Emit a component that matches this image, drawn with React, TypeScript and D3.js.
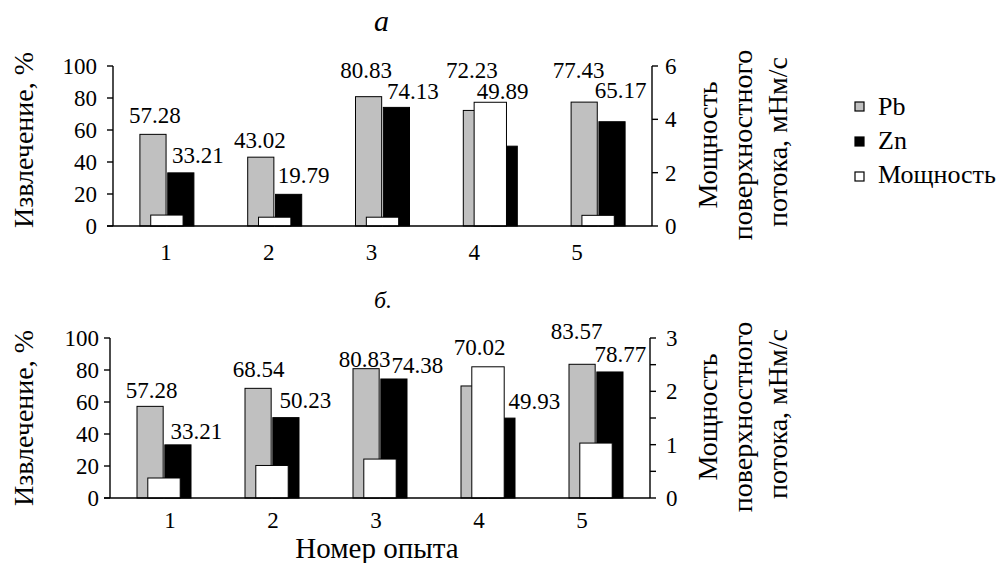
import React from "react";
import * as d3 from "d3";

const categories = ["1", "2", "3", "4", "5"];
const seriesKeys = ["Pb", "Zn"];

// panel а
const pbA = [57.28, 43.02, 80.83, 72.23, 77.43];
const znA = [33.21, 19.79, 74.13, 49.89, 65.17];
const powerA = [0.41, 0.33, 0.33, 4.64, 0.4];
// panel б
const pbB = [57.28, 68.54, 80.83, 70.02, 83.57];
const znB = [33.21, 50.23, 74.38, 49.93, 78.77];
const powerB = [0.375, 0.61, 0.73, 2.46, 1.03];

const leftTicks = [0, 20, 40, 60, 80, 100];
const rightTicksA = [0, 2, 4, 6];
const rightTicksB = [0, 0.5, 1, 1.5, 2, 2.5, 3];

// manual nudges of the value labels (dx from bar centre, dy from bar top)
const nudgePbA = [[2, -11], [-1, -9], [-2.5, -19], [-4.5, -32], [-5.5, -24]];
const nudgeZnA = [[17, -10], [15, -11], [16.5, -8], [-1.5, -47], [8.5, -24]];
const nudgePbB = [[1.5, -8], [0.5, -11], [-1.5, -2], [5.5, -31], [-5.5, -25]];
const nudgeZnB = [[18.5, -6], [19.5, -10], [23.5, -6], [32.5, -9], [10.5, -10]];

const legendItems = [
  { name: "Pb", fill: "#c0c0c0" },
  { name: "Zn", fill: "#000000" },
  { name: "Мощность", fill: "#ffffff" },
];

const FAMILY = "Liberation Serif";
const GRAY = "#c0c0c0";
const CSS = `.rs-chart text { font-family: "Liberation Serif", "Tinos", "Times New Roman", serif !important; }`;

function HText({ x, y, size, anchor = "middle", italic = false, dy, children }: any) {
  return (
    <text
      x={x}
      y={y}
      dy={dy}
      textAnchor={anchor}
      fontFamily={FAMILY}
      fontSize={size}
      fontStyle={italic ? "italic" : undefined}
    >
      {children}
    </text>
  );
}

function VText({ x, y, size, children }: any) {
  return (
    <text
      transform={`translate(${x},${y}) rotate(-90)`}
      textAnchor="middle"
      fontFamily={FAMILY}
      fontSize={size}
    >
      {children}
    </text>
  );
}

function Panel(p: any) {
  const { yTop, yBottom, left, right, pb, zn, pw, pwMax, rTicks, nPb, nZn } = p;
  const x0 = d3.scaleBand().domain(categories).range([left, right]);
  const bw = x0.bandwidth();
  const x1 = d3
    .scaleBand()
    .domain(seriesKeys)
    .range([bw / 2 - 27, bw / 2 + 27])
    .paddingInner(0.06);
  const pwW = bw * 0.3;
  const y = d3.scaleLinear().domain([0, 100]).range([yBottom, yTop]);
  const yR = d3.scaleLinear().domain([0, pwMax]).range([yBottom, yTop]);
  const catX = d3
    .scalePoint()
    .domain(categories)
    .range([left + p.catStart, left + p.catStart + p.catSpan]);

  const bars = [
    { key: "Pb", vals: pb, fill: GRAY, nudge: nPb },
    { key: "Zn", vals: zn, fill: "#000", nudge: nZn },
  ];

  return (
    <g>
      {bars.map((s) =>
        categories.map((c, i) => (
          <rect
            key={s.key + c}
            x={(x0(c) as number) + (x1(s.key) as number)}
            y={y(s.vals[i])}
            width={x1.bandwidth()}
            height={yBottom - y(s.vals[i])}
            fill={s.fill}
            stroke="#000"
            strokeWidth={1}
          />
        ))
      )}
      {categories.map((c, i) => (
        <rect
          key={"pw" + c}
          x={(x0(c) as number) + bw / 2 - pwW / 2}
          y={yR(pw[i])}
          width={pwW}
          height={yBottom - yR(pw[i])}
          fill="#fff"
          stroke="#000"
          strokeWidth={1}
        />
      ))}
      {bars.map((s) =>
        categories.map((c, i) => (
          <HText
            key={"l" + s.key + c}
            x={(x0(c) as number) + (x1(s.key) as number) + x1.bandwidth() / 2 + s.nudge[i][0]}
            y={y(s.vals[i]) + s.nudge[i][1]}
            size={23}
          >
            {s.vals[i].toFixed(2)}
          </HText>
        ))
      )}
      <line x1={left - 6} x2={right} y1={yBottom} y2={yBottom} stroke="#000" strokeWidth={1.4} />
      <line x1={left} x2={left} y1={yTop} y2={yBottom} stroke="#000" strokeWidth={1.4} />
      {leftTicks.map((t) => (
        <g key={"lt" + t}>
          <line x1={left - 6} x2={left} y1={y(t)} y2={y(t)} stroke="#000" strokeWidth={1.4} />
          <HText x={left - p.leftGap} y={y(t)} dy="0.35em" anchor="end" size={23}>
            {t}
          </HText>
        </g>
      ))}
      <line x1={right} x2={right} y1={yTop} y2={yBottom} stroke="#000" strokeWidth={1.4} />
      {rTicks.map((t: number) => (
        <g key={"rt" + t}>
          <line x1={right} x2={right + 6} y1={yR(t)} y2={yR(t)} stroke="#000" strokeWidth={1.4} />
          {Number.isInteger(t) && (
            <HText x={right + p.rightGap} y={yR(t)} dy="0.35em" anchor="start" size={23}>
              {t}
            </HText>
          )}
        </g>
      ))}
      {categories.map((c) => (
        <HText key={"c" + c} x={catX(c)} y={yBottom + p.catDy} size={23}>
          {c}
        </HText>
      ))}
      <VText x={33} y={p.leftTitleY} size={28}>
        Извлечение, %
      </VText>
      <VText x={717} y={p.rightTitleY} size={28}>
        Мощность
      </VText>
      <VText x={752} y={p.rightTitleY} size={28}>
        поверхностного
      </VText>
      <VText x={787} y={p.rightTitleY - 3} size={28}>
        потока, мНм/с
      </VText>
      <HText x={374} y={p.titleY} size={p.titleSize} anchor="start" italic>
        {p.title}
      </HText>
    </g>
  );
}

export default function App() {
  return (
    <svg
      className="rs-chart"
      width={1001}
      height={563}
      fontFamily={FAMILY}
      style={{ position: "absolute", left: 0, top: 0, background: "#fff", display: "block" }}
    >
      <style>{CSS}</style>
      <rect width={1001} height={563} fill="#fff" />
      <Panel
        yTop={66}
        yBottom={226}
        left={113}
        right={652}
        pb={pbA}
        zn={znA}
        pw={powerA}
        pwMax={6}
        rTicks={rightTicksA}
        nPb={nudgePbA}
        nZn={nudgeZnA}
        catStart={53}
        catSpan={411}
        catDy={34}
        leftGap={16}
        rightGap={13}
        leftTitleY={140}
        rightTitleY={145}
        title="а"
        titleY={31}
        titleSize={30}
      />
      <Panel
        yTop={338}
        yBottom={498}
        left={110}
        right={650}
        pb={pbB}
        zn={znB}
        pw={powerB}
        pwMax={3}
        rTicks={rightTicksB}
        nPb={nudgePbB}
        nZn={nudgeZnB}
        catStart={60}
        catSpan={412}
        catDy={30}
        leftGap={11}
        rightGap={16}
        leftTitleY={418}
        rightTitleY={417}
        title="б."
        titleY={308}
        titleSize={24}
      />
      <HText x={377} y={558} size={29}>
        Номер опыта
      </HText>
      {legendItems.map((d, i) => (
        <g key={d.name}>
          <rect
            x={855}
            y={102 + i * 35}
            width={9}
            height={9}
            fill={d.fill}
            stroke="#000"
            strokeWidth={1.2}
          />
          <HText x={878} y={115 + i * 34} anchor="start" size={26}>
            {d.name}
          </HText>
        </g>
      ))}
    </svg>
  );
}
